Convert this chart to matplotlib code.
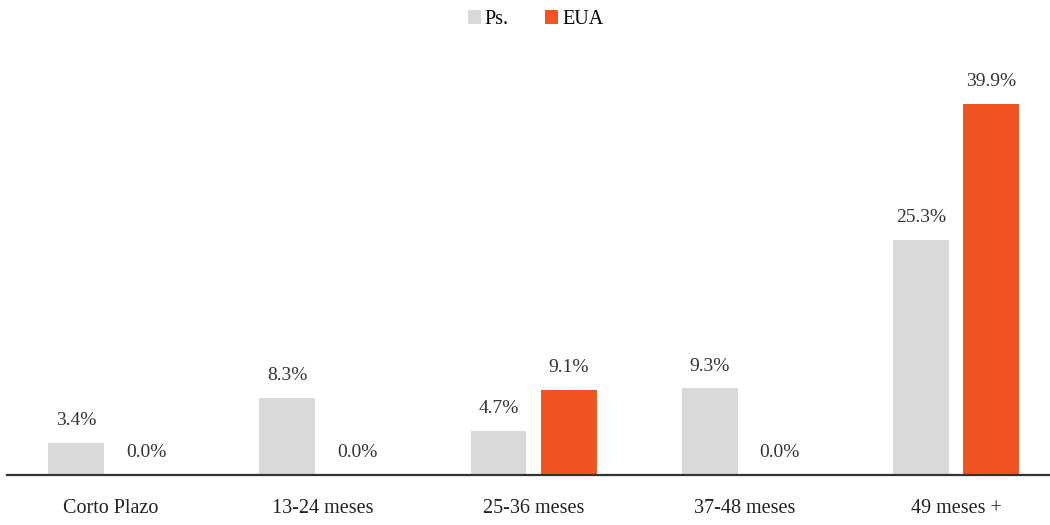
import numpy as np
import matplotlib.pyplot as plt

categories = ["Corto Plazo", "13-24 meses", "25-36 meses", "37-48 meses", "49 meses +"]
ps_vals = [3.4, 8.3, 4.7, 9.3, 25.3]
eua_vals = [0.0, 0.0, 9.1, 0.0, 39.9]
series_names = ["Ps.", "EUA"]

grey = "#d9d9d9"
orange = "#f05423"

plt.rcParams['font.family'] = ['Liberation Serif', 'DejaVu Serif']

fig = plt.figure(figsize=(10.5, 5.25), dpi=100)
ax = fig.add_axes([7 / 1050, 50 / 525, 1 - 7 / 1050, 415 / 525])

x = np.arange(len(categories))
w = 0.265
off = 0.166
b1 = ax.bar(x - off, ps_vals, w, color=grey, label=series_names[0])
b2 = ax.bar(x + off, eua_vals, w, color=orange, label=series_names[1])

# value labels above each bar
for bars, vals in ((b1, ps_vals), (b2, eua_vals)):
    for r, v in zip(bars, vals):
        ax.annotate(f"{v:.1f}%", (r.get_x() + r.get_width() / 2, v),
                    xytext=(0, 10), textcoords="offset points",
                    ha="center", va="bottom", fontsize=14, color="#333333")

ax.set_xlim(-0.493, 4.445)
ax.set_ylim(0, 44.6)
ax.set_xticks(x)
ax.set_xticklabels(categories, fontsize=14.5, color="#222222")
ax.tick_params(axis="x", length=0, pad=17)
ax.set_yticks([])
for s in ("top", "right", "left"):
    ax.spines[s].set_visible(False)
ax.spines["bottom"].set_color("#333333")
ax.spines["bottom"].set_linewidth(1.6)

fig.legend(handles=[b1, b2], loc="upper center", bbox_to_anchor=(0.51, 1.015),
           ncol=2, frameon=False, fontsize=14.5, handlelength=0.65, handleheight=0.65,
           handletextpad=0.2, columnspacing=1.8)

fig.savefig("out.png", dpi=100)
